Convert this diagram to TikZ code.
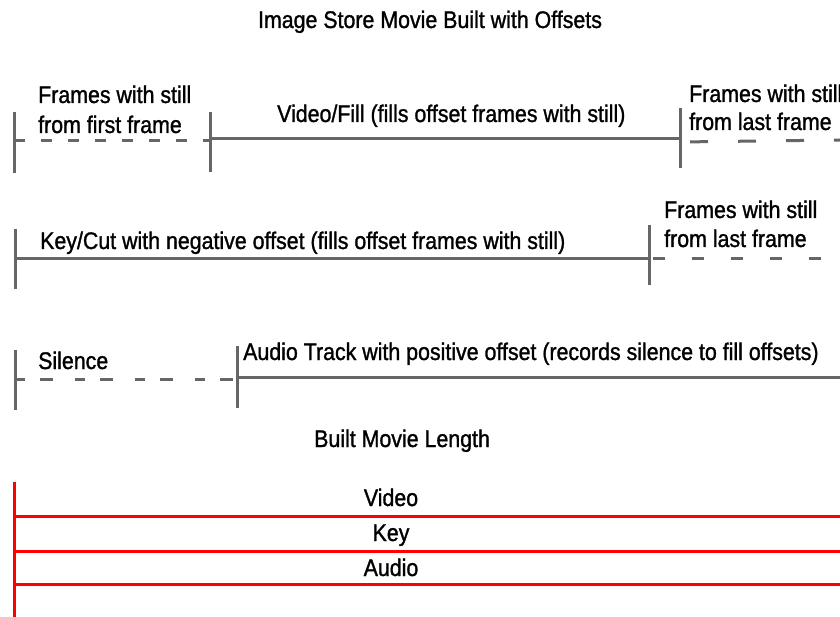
\documentclass[tikz,border=0pt]{standalone}
\usepackage{fontspec}
\setmainfont{Liberation Sans}[FakeStretch=0.89,FakeBold=1.2]
\begin{document}
\begin{tikzpicture}[x=1pt,y=-1pt,
  lbl/.style={inner sep=0pt, anchor=base west, font=\fontsize{24}{30}\selectfont, text=black},
  lblc/.style={lbl, anchor=base},
  track/.style={draw=black!60, line width=3pt},
  fill dash/.style={track, dash pattern=on 11pt off 16pt},
  red line/.style={draw=red, line width=3pt}]
\useasboundingbox (0,0) rectangle (840,617);
% title
\node[lblc] (title) at (430,28) {Image Store Movie Built with Offsets};
% ---- row 1
\coordinate (r1a) at (14,112); \coordinate (r1a2) at (14,173);
\coordinate (r1b) at (210,112); \coordinate (r1b2) at (210,172);
\coordinate (r1c) at (680,108); \coordinate (r1c2) at (680,168);
\coordinate (r1l0) at (14,141); \coordinate (r1l1) at (210,141);
\coordinate (r1s0) at (210,139); \coordinate (r1s1) at (680,139);
\coordinate (r1d0) at (680,142); \coordinate (r1d1) at (840,140);
\draw[track] (r1a) -- (r1a2);
\draw[track] (r1b) -- (r1b2);
\draw[track] (r1c) -- (r1c2);
\draw[fill dash] (r1l0) -- (r1l1);
\draw[track] (r1s0) -- (r1s1);
\draw[track, dash pattern=on 0pt off 10pt on 18pt off 20pt] (r1d0) -- (r1d1);
\node[lbl] (f1a) at (38,103) {Frames with still};
\node[lbl] (f1b) at (38,133) {from first frame};
\node[lbl] (vf) at (277,122) {Video/Fill (fills offset frames with still)};
\node[lbl] (f2a) at (689,102) {Frames with still};
\node[lbl] (f2b) at (689,130) {from last frame};
% ---- row 2
\coordinate (r2a) at (15,229); \coordinate (r2a2) at (15,289);
\coordinate (r2b) at (649,225); \coordinate (r2b2) at (649,285);
\coordinate (r2s0) at (15,259); \coordinate (r2s1) at (649,259);
\coordinate (r2d0) at (649,259); \coordinate (r2d1) at (840,259);
\draw[track] (r2a) -- (r2a2);
\draw[track] (r2b) -- (r2b2);
\draw[track] (r2s0) -- (r2s1);
\draw[track, dash pattern=on 0pt off 4pt on 12pt off 23pt] (r2d0) -- (r2d1);
\node[lbl] (kc) at (40,249) {Key/Cut with negative offset (fills offset frames with still)};
\node[lbl] (f3a) at (664,218) {Frames with still};
\node[lbl] (f3b) at (664,247) {from last frame};
% ---- row 3
\coordinate (r3a) at (15,350); \coordinate (r3a2) at (15,410);
\coordinate (r3b) at (237,346); \coordinate (r3b2) at (237,408);
\coordinate (r3d0) at (15,379); \coordinate (r3d1) at (237,379);
\coordinate (r3s0) at (237,377); \coordinate (r3s1) at (840,377);
\draw[track] (r3a) -- (r3a2);
\draw[track] (r3b) -- (r3b2);
\draw[track, dash pattern=on 10pt off 15pt on 13pt off 22pt] (r3d0) -- (r3d1);
\draw[track] (r3s0) -- (r3s1);
\node[lbl] (sil) at (38,369) {Silence};
\node[lbl] (at) at (243,360) {Audio Track with positive offset (records silence to fill offsets)};
% ---- built movie
\node[lbl] (bml) at (314,447) {Built Movie Length};
\coordinate (rv0) at (14,482); \coordinate (rv1) at (14,617);
\coordinate (rh1a) at (14,516); \coordinate (rh1b) at (840,516);
\coordinate (rh2a) at (14,551); \coordinate (rh2b) at (840,551);
\coordinate (rh3a) at (14,584); \coordinate (rh3b) at (840,584);
\draw[red line] (rv0) -- (rv1);
\draw[red line] (rh1a) -- (rh1b);
\draw[red line] (rh2a) -- (rh2b);
\draw[red line] (rh3a) -- (rh3b);
\node[lblc] (lv) at (391,506) {Video};
\node[lblc] (lk) at (391,541) {Key};
\node[lblc] (la) at (391,576) {Audio};
\end{tikzpicture}
\end{document}
